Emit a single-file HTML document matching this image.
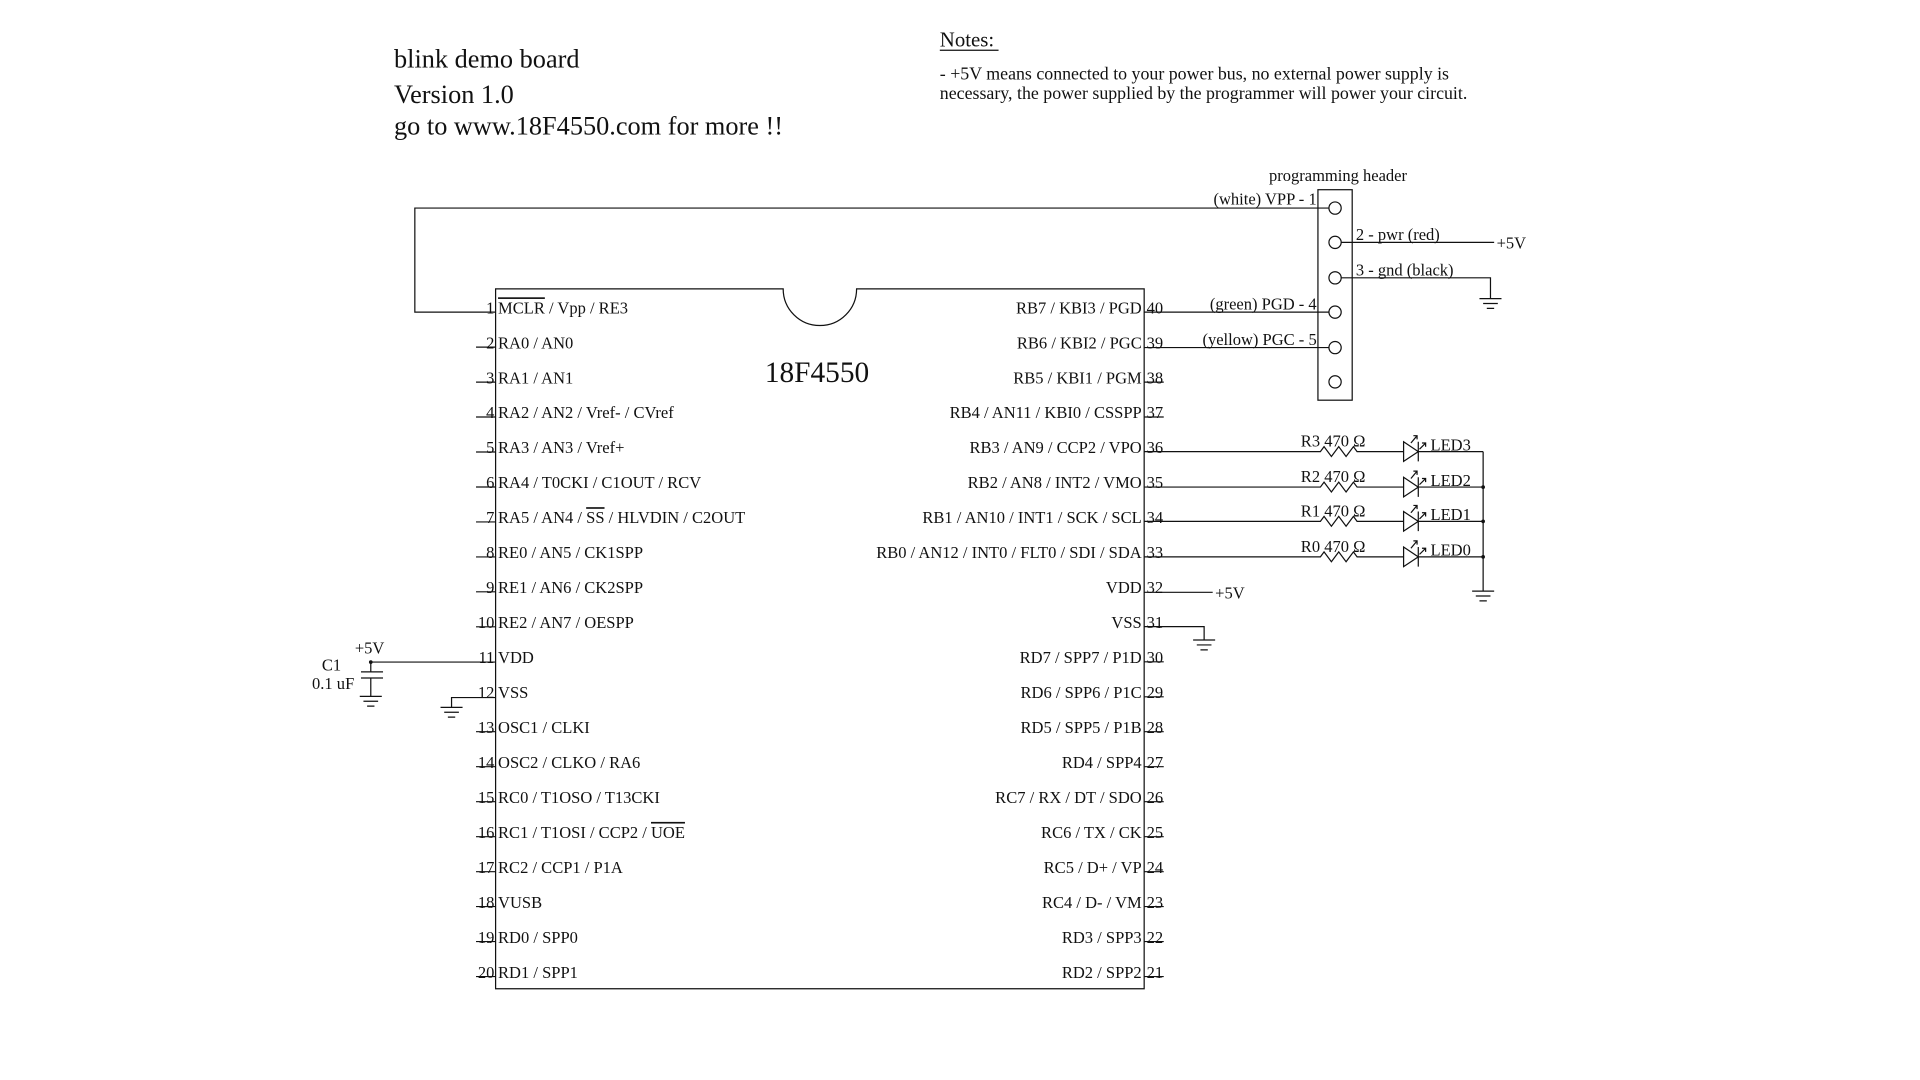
<!DOCTYPE html>
<html><head><meta charset="utf-8"><style>
html,body{margin:0;padding:0;background:#fff;width:1920px;height:1080px;overflow:hidden}
svg{display:block}
text{font-family:"Liberation Serif",serif;fill:#111}
.p{font-size:13.5px}
.r{text-anchor:end}
</style></head><body>
<svg width="1920" height="1080" viewBox="-1 0 1569 882.5" xmlns="http://www.w3.org/2000/svg">
<g stroke="#111" stroke-width="1" fill="none">
<path d="M404,236 H639 A30,30 0 0 0 699,236 H934 V808 H404 Z"/>
<path d="M404,255 H338 V170 H1085"/>
<rect x="1076" y="155" width="28" height="172"/>
<circle cx="1090" cy="170" r="5"/><circle cx="1090" cy="198" r="5"/><circle cx="1090" cy="227" r="5"/>
<circle cx="1090" cy="255" r="5"/><circle cx="1090" cy="284" r="5"/><circle cx="1090" cy="312" r="5"/>
<path d="M1095,198 H1220"/>
<path d="M1095,227 H1217 V244"/>
<path d="M1208,244 h18 M1211,248 h12 M1214,252 h6"/>
<path d="M934,255 H1085 M934,284 H1085"/>
<path d="M934,369 H1078 l3,-4 l6,8 l6,-8 l6,8 l6,-8 l3,4 H1146 M1158,369 H1211"/>
<path d="M934,398 H1078 l3,-4 l6,8 l6,-8 l6,8 l6,-8 l3,4 H1146 M1158,398 H1211"/>
<path d="M934,426 H1078 l3,-4 l6,8 l6,-8 l6,8 l6,-8 l3,4 H1146 M1158,426 H1211"/>
<path d="M934,455 H1078 l3,-4 l6,8 l6,-8 l6,8 l6,-8 l3,4 H1146 M1158,455 H1211"/>
<path d="M1146,361 V377 L1158,369 Z M1158,361 V377"/>
<path d="M1146,390 V406 L1158,398 Z M1158,390 V406"/>
<path d="M1146,418 V434 L1158,426 Z M1158,418 V434"/>
<path d="M1146,447 V463 L1158,455 Z M1158,447 V463"/>
<path d="M1152,362 l5,-6 m-3,0 h3 v3 M1159,367 l5,-5 m-3,0 h3 v3"/>
<path d="M1152,391 l5,-6 m-3,0 h3 v3 M1159,396 l5,-5 m-3,0 h3 v3"/>
<path d="M1152,419 l5,-6 m-3,0 h3 v3 M1159,424 l5,-5 m-3,0 h3 v3"/>
<path d="M1152,448 l5,-6 m-3,0 h3 v3 M1159,453 l5,-5 m-3,0 h3 v3"/>
<path d="M1211,369 V483 M1202,483 h18 M1205,487 h12 M1208,491 h6"/>
<path d="M934,484 H990"/>
<path d="M934,512 H983 V523 M974,523 h18 M977,527 h12 M980,531 h6"/>
<path d="M404,541 H302 V549 M294,549 h18 M294,554 h18 M302,554 V569 M293,569 h18 M296,573 h12 M299,577 h6"/>
<path d="M404,570 H368 V578 M359,578 h18 M362,582 h12 M365,586 h6"/>
<path d="M388,283.6h16 M388,312.2h16 M388,340.7h16 M388,369.3h16 M388,397.9h16 M388,426.5h16 M388,455.1h16 M388,483.6h16 M388,512.2h16 M388,597.9h16 M388,626.5h16 M388,655.1h16 M388,683.7h16 M388,712.3h16 M388,740.8h16 M388,769.4h16 M388,798h16"/>
<path d="M934,312.2h16 M934,340.7h16 M934,540.8h16 M934,569.4h16 M934,597.9h16 M934,626.5h16 M934,655.1h16 M934,683.7h16 M934,712.3h16 M934,740.8h16 M934,769.4h16 M934,798h16"/>
<path d="M767,41 H815"/>
</g>
<circle cx="302" cy="541" r="1.5" fill="#111"/>
<circle cx="1211" cy="398" r="1.5" fill="#111"/><circle cx="1211" cy="426" r="1.5" fill="#111"/><circle cx="1211" cy="455" r="1.5" fill="#111"/>

<text x="321" y="55" font-size="21.5">blink demo board</text>
<text x="321" y="84" font-size="21.5">Version 1.0</text>
<text x="321" y="110" font-size="21.5">go to www.18F4550.com for more !!</text>
<text x="767" y="38" font-size="17">Notes:</text>
<text x="767" y="65" font-size="14.6">- +5V means connected to your power bus, no external power supply is</text>
<text x="767" y="81" font-size="14.6">necessary, the power supplied by the programmer will power your circuit.</text>
<text x="624" y="312" font-size="24">18F4550</text>
<text x="1036" y="148" font-size="13.5">programming header</text>
<text class="p r" x="1075" y="167">(white) VPP - 1</text>
<text class="p" x="1107" y="196">2 - pwr (red)</text>
<text class="p" x="1222" y="203">+5V</text>
<text class="p" x="1107" y="225">3 - gnd (black)</text>
<text class="p r" x="1075" y="253">(green) PGD - 4</text>
<text class="p r" x="1075" y="282">(yellow) PGC - 5</text>
<text class="p" x="1062" y="365">R3 470 Ω</text>
<text class="p" x="1062" y="394">R2 470 Ω</text>
<text class="p" x="1062" y="422">R1 470 Ω</text>
<text class="p" x="1062" y="451">R0 470 Ω</text>
<text class="p" x="1168" y="368">LED3</text>
<text class="p" x="1168" y="397">LED2</text>
<text class="p" x="1168" y="425">LED1</text>
<text class="p" x="1168" y="454">LED0</text>
<text class="p" x="992" y="489">+5V</text>
<text class="p" x="289" y="534">+5V</text>
<text class="p" x="262" y="548">C1</text>
<text class="p" x="254" y="563">0.1 uF</text>

<g>
<text class="p r" x="403" y="256">1</text><text class="p" x="406" y="256"><tspan text-decoration="overline">MCLR</tspan> / Vpp / RE3</text>
<text class="p r" x="403" y="284.6">2</text><text class="p" x="406" y="284.6">RA0 / AN0</text>
<text class="p r" x="403" y="313.2">3</text><text class="p" x="406" y="313.2">RA1 / AN1</text>
<text class="p r" x="403" y="341.7">4</text><text class="p" x="406" y="341.7">RA2 / AN2 / Vref- / CVref</text>
<text class="p r" x="403" y="370.3">5</text><text class="p" x="406" y="370.3">RA3 / AN3 / Vref+</text>
<text class="p r" x="403" y="398.9">6</text><text class="p" x="406" y="398.9">RA4 / T0CKI / C1OUT / RCV</text>
<text class="p r" x="403" y="427.5">7</text><text class="p" x="406" y="427.5">RA5 / AN4 / <tspan text-decoration="overline">SS</tspan> / HLVDIN / C2OUT</text>
<text class="p r" x="403" y="456.1">8</text><text class="p" x="406" y="456.1">RE0 / AN5 / CK1SPP</text>
<text class="p r" x="403" y="484.6">9</text><text class="p" x="406" y="484.6">RE1 / AN6 / CK2SPP</text>
<text class="p r" x="403" y="513.2">10</text><text class="p" x="406" y="513.2">RE2 / AN7 / OESPP</text>
<text class="p r" x="403" y="541.8">11</text><text class="p" x="406" y="541.8">VDD</text>
<text class="p r" x="403" y="570.4">12</text><text class="p" x="406" y="570.4">VSS</text>
<text class="p r" x="403" y="599">13</text><text class="p" x="406" y="599">OSC1 / CLKI</text>
<text class="p r" x="403" y="627.5">14</text><text class="p" x="406" y="627.5">OSC2 / CLKO / RA6</text>
<text class="p r" x="403" y="656.1">15</text><text class="p" x="406" y="656.1">RC0 / T1OSO / T13CKI</text>
<text class="p r" x="403" y="684.7">16</text><text class="p" x="406" y="684.7">RC1 / T1OSI / CCP2 / <tspan text-decoration="overline">UOE</tspan></text>
<text class="p r" x="403" y="713.3">17</text><text class="p" x="406" y="713.3">RC2 / CCP1 / P1A</text>
<text class="p r" x="403" y="741.8">18</text><text class="p" x="406" y="741.8">VUSB</text>
<text class="p r" x="403" y="770.4">19</text><text class="p" x="406" y="770.4">RD0 / SPP0</text>
<text class="p r" x="403" y="799">20</text><text class="p" x="406" y="799">RD1 / SPP1</text>
</g>
<g>
<text class="p" x="936" y="256">40</text><text class="p r" x="932" y="256">RB7 / KBI3 / PGD</text>
<text class="p" x="936" y="284.6">39</text><text class="p r" x="932" y="284.6">RB6 / KBI2 / PGC</text>
<text class="p" x="936" y="313.2">38</text><text class="p r" x="932" y="313.2">RB5 / KBI1 / PGM</text>
<text class="p" x="936" y="341.7">37</text><text class="p r" x="932" y="341.7">RB4 / AN11 / KBI0 / CSSPP</text>
<text class="p" x="936" y="370.3">36</text><text class="p r" x="932" y="370.3">RB3 / AN9 / CCP2 / VPO</text>
<text class="p" x="936" y="398.9">35</text><text class="p r" x="932" y="398.9">RB2 / AN8 / INT2 / VMO</text>
<text class="p" x="936" y="427.5">34</text><text class="p r" x="932" y="427.5">RB1 / AN10 / INT1 / SCK / SCL</text>
<text class="p" x="936" y="456.1">33</text><text class="p r" x="932" y="456.1">RB0 / AN12 / INT0 / FLT0 / SDI / SDA</text>
<text class="p" x="936" y="484.6">32</text><text class="p r" x="932" y="484.6">VDD</text>
<text class="p" x="936" y="513.2">31</text><text class="p r" x="932" y="513.2">VSS</text>
<text class="p" x="936" y="541.8">30</text><text class="p r" x="932" y="541.8">RD7 / SPP7 / P1D</text>
<text class="p" x="936" y="570.4">29</text><text class="p r" x="932" y="570.4">RD6 / SPP6 / P1C</text>
<text class="p" x="936" y="599">28</text><text class="p r" x="932" y="599">RD5 / SPP5 / P1B</text>
<text class="p" x="936" y="627.5">27</text><text class="p r" x="932" y="627.5">RD4 / SPP4</text>
<text class="p" x="936" y="656.1">26</text><text class="p r" x="932" y="656.1">RC7 / RX / DT / SDO</text>
<text class="p" x="936" y="684.7">25</text><text class="p r" x="932" y="684.7">RC6 / TX / CK</text>
<text class="p" x="936" y="713.3">24</text><text class="p r" x="932" y="713.3">RC5 / D+ / VP</text>
<text class="p" x="936" y="741.8">23</text><text class="p r" x="932" y="741.8">RC4 / D- / VM</text>
<text class="p" x="936" y="770.4">22</text><text class="p r" x="932" y="770.4">RD3 / SPP3</text>
<text class="p" x="936" y="799">21</text><text class="p r" x="932" y="799">RD2 / SPP2</text>
</g>
</svg>
</body></html>
